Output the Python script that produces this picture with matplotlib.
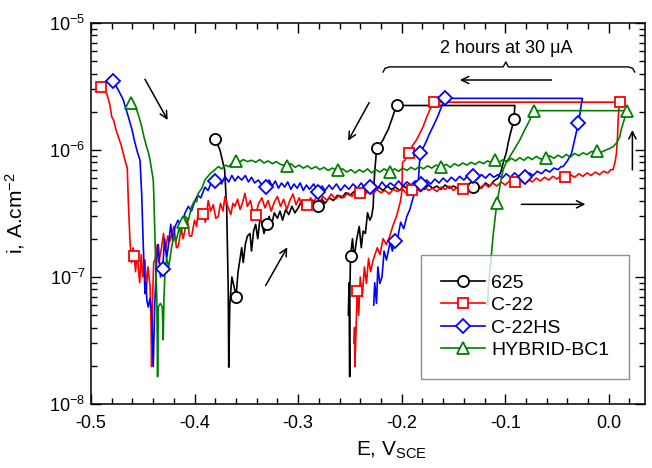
import numpy as np
import matplotlib
matplotlib.use("Agg")
import matplotlib.pyplot as plt
from matplotlib.lines import Line2D
from matplotlib.ticker import LogLocator, MultipleLocator, FormatStrFormatter

plt.rcParams["font.family"] = ["Liberation Sans", "DejaVu Sans"]
plt.rcParams["mathtext.fontset"] = "custom"
plt.rcParams["mathtext.rm"] = "Liberation Sans"
plt.rcParams["mathtext.it"] = "Liberation Sans:italic"
plt.rcParams["axes.unicode_minus"] = False

# corriente en uA/cm2, potencial en V vs SCE
# 625: barrido directo, retención, barrido inverso
e_625 = [-0.380, -0.3755, -0.371, -0.369, -0.3675, -0.367, -0.366, -0.364, -0.362, -0.360,
         -0.358, -0.356, -0.3545, -0.353, -0.351, -0.349, -0.3465, -0.345, -0.343, -0.341,
         -0.339, -0.337, -0.335, -0.333, -0.3305, -0.328, -0.326, -0.323, -0.320, -0.3175,
         -0.315, -0.312, -0.309, -0.306, -0.303, -0.300, -0.297, -0.294, -0.291, -0.288,
         -0.285, -0.2806, -0.277, -0.274, -0.270, -0.266, -0.262, -0.258, -0.254, -0.250,
         -0.246, -0.242, -0.238, -0.234, -0.230, -0.226, -0.222, -0.218, -0.214, -0.210,
         -0.206, -0.202, -0.198, -0.194, -0.190, -0.186, -0.182, -0.178, -0.174, -0.170,
         -0.166, -0.162, -0.158, -0.154, -0.150, -0.146, -0.142, -0.138, -0.134, -0.131,
         -0.127, -0.123, -0.119, -0.115, -0.111, -0.107, -0.104, -0.102, -0.099, -0.097,
         -0.095, -0.0935, -0.0917, -0.0912, -0.0907,
         -0.2049,
         -0.2098, -0.213, -0.216, -0.218, -0.2205, -0.2242, -0.225, -0.2259, -0.2268, -0.2275,
         -0.229, -0.2307, -0.233, -0.235, -0.2372, -0.239, -0.241, -0.2436, -0.246, -0.2475,
         -0.2494, -0.2500, -0.2502, -0.2508, -0.2515]
i_625 = [1.22, 1.0, 0.70, 0.35, 0.08, 0.0195, 0.06, 0.10, 0.085, 0.07,
         0.11, 0.14, 0.17, 0.13, 0.18, 0.21, 0.22, 0.16, 0.23, 0.26,
         0.20, 0.28, 0.27, 0.22, 0.26, 0.30, 0.25, 0.32, 0.29, 0.33,
         0.28, 0.34, 0.31, 0.36, 0.32, 0.35, 0.39, 0.34, 0.38, 0.36,
         0.40, 0.36, 0.41, 0.38, 0.42, 0.40, 0.44, 0.42, 0.46, 0.44,
         0.47, 0.45, 0.49, 0.46, 0.50, 0.47, 0.51, 0.48, 0.52, 0.49,
         0.51, 0.48, 0.52, 0.49, 0.53, 0.50, 0.52, 0.49, 0.53, 0.50,
         0.52, 0.49, 0.53, 0.50, 0.52, 0.50, 0.53, 0.50, 0.52, 0.51,
         0.53, 0.50, 0.55, 0.52, 0.57, 0.60, 0.68, 0.79, 0.95, 1.15,
         1.35, 1.5, 1.75, 1.95, 2.24,
         2.24,
         1.72, 1.45, 1.30, 1.20, 1.12, 1.03, 0.85, 0.70, 0.52, 0.36,
         0.30, 0.28, 0.32, 0.22, 0.23, 0.17, 0.25, 0.195, 0.14, 0.20,
         0.146, 0.08, 0.0164, 0.09, 0.05]
e_625_mk = [-0.380, -0.360, -0.3305, -0.2806, -0.131, -0.0917, -0.2049, -0.2242, -0.2494]
i_625_mk = [1.22, 0.07, 0.26, 0.36, 0.51, 1.75, 2.24, 1.03, 0.146]

# C-22
e_c22 = [-0.4903, -0.4849, -0.482, -0.480, -0.478, -0.476, -0.4736, -0.471, -0.469, -0.4672,
         -0.465, -0.464, -0.4632, -0.4624, -0.461, -0.4595, -0.4582, -0.457, -0.4555, -0.4544,
         -0.453, -0.4515, -0.450, -0.4479, -0.4465, -0.445, -0.443, -0.4422, -0.4415, -0.4405,
         -0.4395, -0.4382, -0.436, -0.4345, -0.4318, -0.430, -0.428, -0.426, -0.424, -0.422,
         -0.420, -0.4175, -0.4157, -0.413, -0.411, -0.4093, -0.407, -0.405, -0.4028, -0.400,
         -0.398, -0.3964, -0.394, -0.3917, -0.3895, -0.3868, -0.3845, -0.382, -0.3795, -0.3771,
         -0.375, -0.3725, -0.3707, -0.368, -0.365, -0.363, -0.361, -0.3585, -0.356, -0.3535,
         -0.3514, -0.349, -0.346, -0.344, -0.341, -0.338, -0.335, -0.332, -0.329, -0.326,
         -0.323, -0.320, -0.317, -0.314, -0.311, -0.308, -0.305, -0.302, -0.299, -0.296,
         -0.2912, -0.288, -0.285, -0.282, -0.279, -0.276, -0.272, -0.268, -0.264, -0.260,
         -0.256, -0.252, -0.248, -0.244, -0.2403, -0.236, -0.232, -0.228, -0.224, -0.220,
         -0.216, -0.212, -0.208, -0.204, -0.200, -0.196, -0.1905, -0.186, -0.182, -0.178,
         -0.174, -0.170, -0.166, -0.162, -0.158, -0.154, -0.150, -0.146, -0.1406, -0.136,
         -0.132, -0.128, -0.124, -0.120, -0.116, -0.112, -0.108, -0.104, -0.100, -0.096,
         -0.0907, -0.086, -0.082, -0.078, -0.074, -0.070, -0.066, -0.062, -0.058, -0.054,
         -0.050, -0.046, -0.0418, -0.037, -0.033, -0.029, -0.025, -0.021, -0.017, -0.013,
         -0.009, -0.005, -0.001, 0.002, 0.0042, 0.006, 0.0074, 0.0085, 0.009, 0.0098,
         0.0106,
         -0.169,
         -0.1728, -0.176, -0.1792, -0.1825, -0.1857, -0.1895, -0.1931, -0.1969, -0.1992, -0.1995,
         -0.1997, -0.201, -0.205, -0.208, -0.2115, -0.2147, -0.218, -0.221, -0.2235, -0.2276,
         -0.230, -0.232, -0.234, -0.236, -0.238, -0.240, -0.2415, -0.243, -0.2442, -0.2452,
         -0.2455, -0.246]
i_c22 = [3.12, 2.79, 2.3, 1.83, 1.7, 1.45, 1.27, 1.1, 0.95, 0.83,
         0.72, 0.40, 0.28, 0.195, 0.13, 0.17, 0.145, 0.11, 0.16, 0.12,
         0.09, 0.15, 0.10, 0.136, 0.08, 0.12, 0.084, 0.05, 0.0197, 0.07,
         0.13, 0.136, 0.18, 0.13, 0.173, 0.22, 0.16, 0.21, 0.19, 0.22,
         0.25, 0.17, 0.174, 0.24, 0.20, 0.234, 0.29, 0.21, 0.21, 0.28,
         0.25, 0.34, 0.30, 0.313, 0.27, 0.40, 0.33, 0.37, 0.29, 0.30,
         0.38, 0.33, 0.43, 0.36, 0.31, 0.38, 0.36, 0.41, 0.34, 0.39,
         0.456, 0.36, 0.40, 0.33, 0.31, 0.38, 0.42, 0.35, 0.40, 0.33,
         0.39, 0.43, 0.36, 0.41, 0.34, 0.40, 0.45, 0.37, 0.42, 0.36,
         0.366, 0.42, 0.38, 0.44, 0.39, 0.43, 0.40, 0.45, 0.41, 0.44,
         0.42, 0.46, 0.43, 0.47, 0.456, 0.44, 0.48, 0.45, 0.49, 0.46,
         0.48, 0.45, 0.49, 0.47, 0.50, 0.46, 0.484, 0.50, 0.47, 0.51,
         0.48, 0.50, 0.47, 0.51, 0.49, 0.52, 0.48, 0.51, 0.493, 0.52,
         0.49, 0.53, 0.50, 0.54, 0.51, 0.55, 0.52, 0.56, 0.53, 0.57,
         0.557, 0.58, 0.55, 0.59, 0.56, 0.60, 0.57, 0.61, 0.58, 0.62,
         0.59, 0.63, 0.617, 0.64, 0.61, 0.65, 0.62, 0.66, 0.63, 0.67,
         0.64, 0.68, 0.66, 0.70, 0.70, 0.80, 0.94, 1.3, 1.72, 2.1,
         2.38,
         2.38,
         2.07, 1.8, 1.53, 1.35, 1.20, 1.08, 0.95, 0.83, 0.80, 0.60,
         0.48, 0.40, 0.30, 0.26, 0.21, 0.18, 0.20, 0.15, 0.17, 0.136,
         0.11, 0.14, 0.089, 0.12, 0.07, 0.10, 0.05, 0.078, 0.035, 0.0197,
         0.04, 0.03]
e_c22_mk = [-0.4903, -0.4582, -0.3917, -0.341, -0.2912, -0.2403, -0.1905, -0.1406, -0.0907,
            -0.0418, 0.0106, -0.169, -0.1931, -0.243]
i_c22_mk = [3.12, 0.145, 0.313, 0.31, 0.366, 0.456, 0.484, 0.493, 0.557,
            0.617, 2.38, 2.38, 0.95, 0.078]

# C-22HS
e_c22hs = [-0.4788, -0.4736, -0.469, -0.464, -0.4605, -0.4575, -0.455, -0.4527, -0.4511, -0.4503,
           -0.4495, -0.4487, -0.4479, -0.447, -0.446, -0.4447, -0.443, -0.4414, -0.4405, -0.4399,
           -0.4385, -0.4366, -0.435, -0.433, -0.4308, -0.429, -0.427, -0.4254, -0.423, -0.421,
           -0.4189, -0.416, -0.413, -0.4093, -0.406, -0.403, -0.3996, -0.397, -0.394, -0.390,
           -0.387, -0.384, -0.3803, -0.377, -0.374, -0.3707, -0.367, -0.364, -0.361, -0.358,
           -0.3545, -0.351, -0.348, -0.345, -0.342, -0.3385, -0.335, -0.3311, -0.328, -0.325,
           -0.322, -0.319, -0.316, -0.313, -0.310, -0.307, -0.304, -0.301, -0.298, -0.295,
           -0.292, -0.289, -0.285, -0.2806, -0.277, -0.274, -0.270, -0.267, -0.263, -0.259,
           -0.255, -0.251, -0.247, -0.243, -0.239, -0.235, -0.2307, -0.227, -0.223, -0.219,
           -0.215, -0.211, -0.207, -0.203, -0.199, -0.195, -0.191, -0.187, -0.1809, -0.176,
           -0.172, -0.168, -0.164, -0.160, -0.156, -0.152, -0.148, -0.144, -0.140, -0.136,
           -0.131, -0.127, -0.123, -0.119, -0.115, -0.111, -0.107, -0.103, -0.099, -0.095,
           -0.091, -0.087, -0.0811, -0.077, -0.073, -0.069, -0.065, -0.061, -0.057, -0.053,
           -0.049, -0.046, -0.0441, -0.040, -0.036, -0.033, -0.0293, -0.0275, -0.0264, -0.0254,
           -0.1577,
           -0.1616, -0.165, -0.1697, -0.173, -0.176, -0.179, -0.1819, -0.183, -0.184, -0.1865,
           -0.189, -0.1921, -0.195, -0.198, -0.201, -0.204, -0.2066, -0.209, -0.211, -0.2147,
           -0.217, -0.219, -0.2211, -0.223, -0.2243, -0.226, -0.227]
i_c22hs = [3.49, 2.96, 2.5, 1.83, 1.45, 1.13, 0.95, 0.83, 0.456, 0.28,
           0.173, 0.12, 0.074, 0.09, 0.065, 0.058, 0.068, 0.052, 0.03, 0.0197,
           0.06, 0.136, 0.18, 0.10, 0.115, 0.20, 0.14, 0.173, 0.26, 0.19,
           0.249, 0.28, 0.25, 0.318, 0.36, 0.33, 0.40, 0.44, 0.42, 0.51,
           0.48, 0.55, 0.57, 0.60, 0.54, 0.62, 0.56, 0.63, 0.57, 0.62,
           0.58, 0.63, 0.56, 0.61, 0.55, 0.58, 0.53, 0.51, 0.58, 0.52,
           0.57, 0.50, 0.55, 0.51, 0.56, 0.49, 0.54, 0.50, 0.55, 0.48,
           0.53, 0.49, 0.54, 0.47, 0.52, 0.48, 0.53, 0.49, 0.54, 0.48,
           0.53, 0.49, 0.54, 0.50, 0.55, 0.49, 0.51, 0.55, 0.50, 0.56,
           0.51, 0.55, 0.52, 0.57, 0.52, 0.56, 0.53, 0.57, 0.54, 0.58,
           0.54, 0.59, 0.55, 0.60, 0.56, 0.61, 0.57, 0.62, 0.58, 0.63,
           0.62, 0.59, 0.64, 0.60, 0.65, 0.61, 0.64, 0.60, 0.65, 0.61,
           0.66, 0.62, 0.61, 0.66, 0.63, 0.68, 0.65, 0.70, 0.67, 0.72,
           0.70, 0.74, 0.74, 0.82, 0.94, 1.2, 1.64, 2.0, 2.33, 2.55,
           2.55,
           2.19, 1.85, 1.53, 1.35, 1.18, 1.05, 0.95, 0.75, 0.55, 0.48,
           0.42, 0.34, 0.30, 0.24, 0.27, 0.20, 0.193, 0.16, 0.19, 0.136,
           0.16, 0.10, 0.089, 0.12, 0.062, 0.09, 0.06]
e_c22hs_mk = [-0.4788, -0.4308, -0.3803, -0.3311, -0.2806, -0.2307, -0.1809, -0.131, -0.0811,
              -0.0293, -0.1577, -0.1819, -0.2066]
i_c22hs_mk = [3.49, 0.115, 0.57, 0.51, 0.47, 0.51, 0.54, 0.62, 0.61,
              1.64, 2.55, 0.95, 0.193]

# HYBRID-BC1
e_bc1 = [-0.4614, -0.4559, -0.4535, -0.4511, -0.4487, -0.4463, -0.4445, -0.443, -0.4415, -0.4399,
         -0.4394, -0.4389, -0.4382, -0.4375, -0.4365, -0.4357, -0.435, -0.433, -0.4312, -0.4303,
         -0.4295, -0.4286, -0.427, -0.425, -0.4221, -0.420, -0.418, -0.415, -0.413, -0.411,
         -0.409, -0.406, -0.4029, -0.400, -0.398, -0.3964, -0.393, -0.390, -0.387, -0.385,
         -0.3803, -0.377, -0.374, -0.370, -0.367, -0.3635, -0.3603, -0.357, -0.353, -0.349,
         -0.3449, -0.341, -0.337, -0.333, -0.329, -0.325, -0.321, -0.317, -0.3112, -0.307,
         -0.303, -0.299, -0.295, -0.291, -0.287, -0.283, -0.279, -0.275, -0.271, -0.267,
         -0.2613, -0.257, -0.253, -0.249, -0.245, -0.241, -0.237, -0.233, -0.229, -0.225,
         -0.221, -0.217, -0.2114, -0.207, -0.203, -0.199, -0.195, -0.191, -0.187, -0.183,
         -0.179, -0.175, -0.171, -0.167, -0.1616, -0.157, -0.153, -0.149, -0.145, -0.141,
         -0.137, -0.133, -0.129, -0.125, -0.121, -0.117, -0.113, -0.110, -0.106, -0.102,
         -0.098, -0.094, -0.090, -0.086, -0.082, -0.078, -0.074, -0.070, -0.066, -0.0611,
         -0.057, -0.053, -0.049, -0.045, -0.041, -0.037, -0.033, -0.029, -0.025, -0.021,
         -0.017, -0.0113, -0.007, -0.003, 0.0, 0.0042, 0.008, 0.0106, 0.012, 0.0138,
         0.0155, 0.0176,
         -0.0724,
         -0.0763, -0.081, -0.0859, -0.091, -0.0956, -0.099, -0.102, -0.1037, -0.1052, -0.1065,
         -0.1078, -0.109, -0.110, -0.1115, -0.1132, -0.1145, -0.116, -0.117]
i_bc1 = [2.36, 2.07, 1.8, 1.53, 1.25, 1.06, 0.95, 0.83, 0.70, 0.58,
         0.45, 0.318, 0.20, 0.12, 0.07, 0.0164, 0.058, 0.062, 0.058, 0.032,
         0.07, 0.107, 0.14, 0.12, 0.173, 0.21, 0.19, 0.24, 0.22, 0.27,
         0.30, 0.28, 0.358, 0.40, 0.39, 0.456, 0.50, 0.58, 0.62, 0.65,
         0.70, 0.74, 0.71, 0.76, 0.74, 0.79, 0.82, 0.80, 0.84, 0.81,
         0.83, 0.80, 0.84, 0.79, 0.82, 0.78, 0.81, 0.77, 0.75, 0.78,
         0.73, 0.76, 0.72, 0.75, 0.71, 0.74, 0.70, 0.73, 0.69, 0.72,
         0.69, 0.71, 0.67, 0.70, 0.66, 0.70, 0.67, 0.71, 0.66, 0.70,
         0.67, 0.71, 0.67, 0.71, 0.68, 0.72, 0.69, 0.73, 0.70, 0.74,
         0.71, 0.75, 0.72, 0.76, 0.74, 0.77, 0.73, 0.78, 0.75, 0.79,
         0.76, 0.80, 0.77, 0.81, 0.78, 0.82, 0.79, 0.83, 0.80, 0.84,
         0.81, 0.86, 0.82, 0.87, 0.83, 0.88, 0.84, 0.89, 0.85, 0.86,
         0.90, 0.86, 0.91, 0.87, 0.92, 0.88, 0.94, 0.90, 0.95, 0.92,
         0.97, 0.98, 0.96, 1.0, 1.02, 1.06, 1.15, 1.27, 1.45, 1.62,
         1.80, 2.04,
         2.04,
         1.72, 1.45, 1.20, 1.02, 0.885, 0.80, 0.70, 0.60, 0.514, 0.45,
         0.38, 0.33, 0.28, 0.22, 0.154, 0.12, 0.09, 0.06]
e_bc1_mk = [-0.4614, -0.411, -0.3603, -0.3112, -0.2613, -0.2114, -0.1616, -0.110, -0.0611,
            -0.0113, 0.0176, -0.0724, -0.1078]
i_bc1_mk = [2.36, 0.27, 0.82, 0.75, 0.69, 0.67, 0.74, 0.83, 0.86,
            0.98, 2.04, 2.04, 0.38]

labels = ["625", "C-22", "C-22HS", "HYBRID-BC1"]
colors = ["black", "red", "blue", "green"]
markers = ["o", "s", "D", "^"]
msizes = [8, 7.5, 7.5, 9]

series = [(e_625, i_625, e_625_mk, i_625_mk),
          (e_c22, i_c22, e_c22_mk, i_c22_mk),
          (e_c22hs, i_c22hs, e_c22hs_mk, i_c22hs_mk),
          (e_bc1, i_bc1, e_bc1_mk, i_bc1_mk)]

fig = plt.figure(figsize=(6.52, 4.68), dpi=100)
ax = fig.add_axes([0.1396, 0.1368, 0.8497, 0.8141])

handles = []
for (e, i, em, im), lab, c, m, ms in zip(series, labels, colors, markers, msizes):
    ax.plot(e, np.array(i) * 1e-6, color=c, lw=1.2, zorder=2)
    ax.plot(em, np.array(im) * 1e-6, ls="none", marker=m, ms=ms, mfc="white",
            mec=c, mew=1.3, zorder=3)
    handles.append(Line2D([], [], color=c, lw=1.2, marker=m, ms=ms, mfc="white",
                          mec=c, mew=1.3))

ax.set_yscale("log")
ax.set_xlim(-0.5, 0.035)
ax.set_ylim(1e-8, 1e-5)
ax.xaxis.set_major_locator(MultipleLocator(0.1))
ax.xaxis.set_minor_locator(MultipleLocator(0.02))
ax.xaxis.set_major_formatter(FormatStrFormatter("%.1f"))
ax.yaxis.set_major_locator(LogLocator(base=10, numticks=10))
ax.yaxis.set_minor_locator(LogLocator(base=10, subs=np.arange(2, 10), numticks=10))
ax.tick_params(which="both", direction="in", top=True, right=True, labelsize=13, width=1.0)
ax.tick_params(which="major", length=7)
ax.tick_params(which="minor", length=4)
ax.tick_params(axis="x", which="major", pad=8)
ax.tick_params(axis="y", which="major", pad=4)
for sp in ax.spines.values():
    sp.set_linewidth(1.1)

ax.set_xlabel("E, V$_{\\mathrm{SCE}}$", fontsize=15)
ax.set_ylabel("i, A.cm$^{-2}$", fontsize=15)
ax.xaxis.set_label_coords(0.543, -0.095)
ax.yaxis.set_label_coords(-0.115, 0.5)

leg = ax.legend(handles, labels, loc="upper left", bbox_to_anchor=(0.596, 0.392),
                borderaxespad=0, fontsize=14, frameon=True, fancybox=False, edgecolor="0.45",
                handlelength=2.3, borderpad=1.0, labelspacing=0.25, handletextpad=0.3)
leg.get_frame().set_linewidth(1.0)
leg.set_zorder(5)

# anotaciones: llave, texto y flechas
ax.text(-0.0988, 6.35e-6, "2 hours at 30 \u03bcA", fontsize=13, ha="center", va="center")
brace_e = [-0.218, -0.216, -0.212, -0.102, -0.0994, -0.097, 0.019, 0.023, 0.025]
brace_i = [4.11e-6, 4.40e-6, 4.51e-6, 4.51e-6, 4.93e-6, 4.51e-6, 4.51e-6, 4.40e-6, 4.11e-6]
ax.plot(brace_e, brace_i, color="black", lw=1.0)

arrows = [((-0.4479, 10**-5.443), (-0.426, 10**-5.764)),
          ((-0.3314, 10**-7.068), (-0.3104, 10**-6.766)),
          ((-0.0554, 10**-5.449), (-0.1438, 10**-5.449)),
          ((-0.2314, 10**-5.627), (-0.2517, 10**-5.927)),
          ((-0.0844, 10**-6.428), (-0.0226, 10**-6.428)),
          ((0.0228, 10**-6.157), (0.0228, 10**-5.843))]
for start, end in arrows:
    ax.annotate("", xy=end, xytext=start,
                arrowprops=dict(arrowstyle="->", lw=1.1, color="black", mutation_scale=13,
                                shrinkA=0, shrinkB=0))

fig.savefig("out.png", dpi=100)
